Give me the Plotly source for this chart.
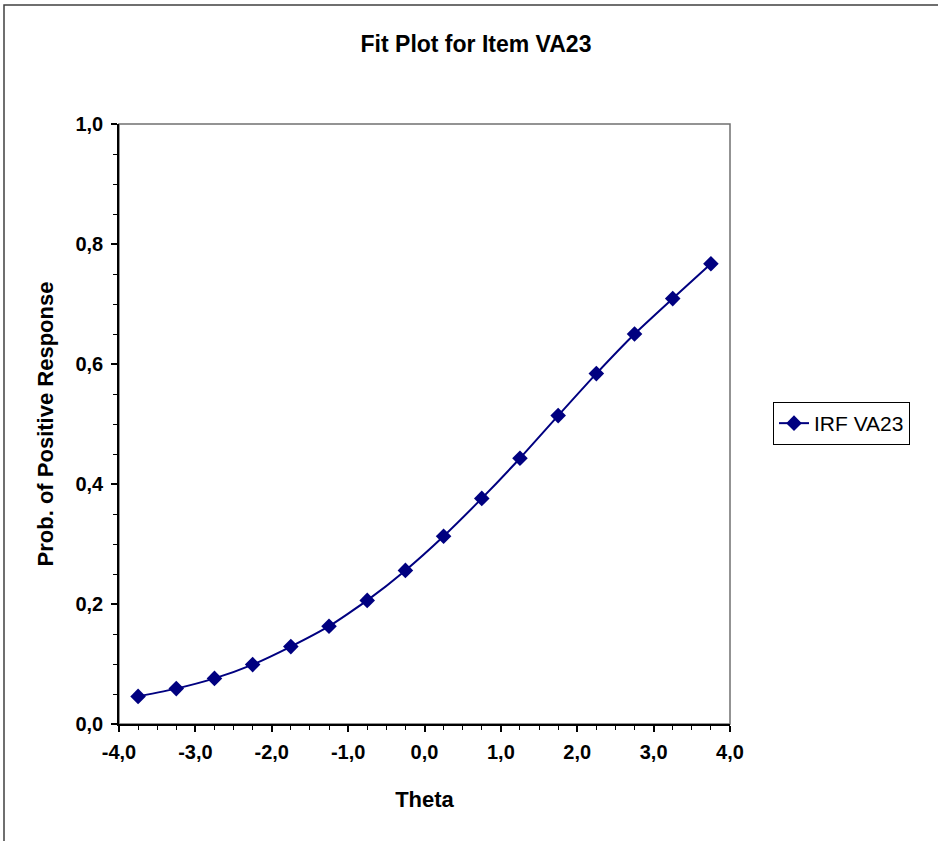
import plotly.graph_objects as go

theta = [-3.75, -3.25, -2.75, -2.25, -1.75, -1.25, -0.75, -0.25,
         0.25, 0.75, 1.25, 1.75, 2.25, 2.75, 3.25, 3.75]
prob = [0.046, 0.059, 0.076, 0.099, 0.129, 0.163, 0.206, 0.256,
        0.313, 0.376, 0.443, 0.514, 0.584, 0.650, 0.709, 0.767]
x_tickvals = [-4, -3, -2, -1, 0, 1, 2, 3, 4]
x_ticktext = ["-4,0", "-3,0", "-2,0", "-1,0", "0,0", "1,0", "2,0", "3,0", "4,0"]
y_tickvals = [0, 0.2, 0.4, 0.6, 0.8, 1.0]
y_ticktext = ["0,0", "0,2", "0,4", "0,6", "0,8", "1,0"]
series_name = "IRF VA23"
chart_title = "Fit Plot for Item VA23"
x_title = "Theta"
y_title = "Prob. of Positive Response"

W, H = 938, 841
L, R, T, B = 119, 730, 124, 724
navy = "#000080"
font_family = "Liberation Sans, Arial, sans-serif"

fig = go.Figure()
fig.add_trace(go.Scatter(
    x=theta, y=prob, name=series_name, mode="lines+markers",
    line=dict(color=navy, width=2, shape="spline", smoothing=0.5),
    marker=dict(symbol="diamond", size=12, color=navy),
))

pw = R - L
ph = B - T

# plot area border (grey) and outer chart frame
fig.add_shape(type="rect", xref="paper", yref="paper", x0=0, x1=1, y0=0, y1=1,
              line=dict(color="#707070", width=1.5), layer="below")
fig.add_shape(type="rect", xref="paper", yref="paper",
              x0=(4 - L) / pw, x1=(W + 20 - L) / pw,
              y0=(B - (H + 20)) / ph, y1=(B - 5) / ph,
              line=dict(color="#404040", width=1.5), layer="below")

tick_font = dict(family=font_family, size=20, color="black", weight="bold")
title_font = dict(family=font_family, size=22, color="black", weight="bold")
fig.update_xaxes(
    range=[-4, 4], tickvals=x_tickvals, ticktext=x_ticktext,
    showgrid=False, zeroline=False, showline=True, linecolor="black", linewidth=1.5,
    ticks="outside", ticklen=6, tickwidth=1.5, tickcolor="black", ticklabelstandoff=3,
    minor=dict(dtick=0.25, tick0=-4, ticks="outside", ticklen=4, tickwidth=1, tickcolor="black"),
    tickfont=tick_font,
    title=dict(text=x_title, font=title_font, standoff=30),
)
fig.update_yaxes(
    range=[0, 1], tickvals=y_tickvals, ticktext=y_ticktext,
    showgrid=False, zeroline=False, showline=True, linecolor="black", linewidth=1.5,
    ticks="outside", ticklen=6, tickwidth=1.5, tickcolor="black", ticklabelstandoff=4,
    minor=dict(dtick=0.05, tick0=0, ticks="outside", ticklen=4, tickwidth=1, tickcolor="black"),
    tickfont=tick_font,
    title=dict(text=y_title, font=title_font, standoff=16),
)

fig.update_layout(
    width=W, height=H,
    margin=dict(l=L, r=W - R, t=T, b=H - B, autoexpand=False),
    paper_bgcolor="white", plot_bgcolor="white",
    title=dict(text=chart_title, x=476 / W, xref="container", xanchor="center",
               y=1 - 44 / H, yref="container", yanchor="middle",
               font=dict(family=font_family, size=23, color="black", weight="bold")),
    showlegend=True,
    legend=dict(x=(773 - L) / pw, xanchor="left", y=(B - 423.5) / ph, yanchor="middle",
                bordercolor="black", borderwidth=1, bgcolor="white",
                font=dict(family=font_family, size=21, color="black")),
)

fig.write_html("out.html", config={"displayModeBar": False},
               post_script="document.body.style.margin='0';")
